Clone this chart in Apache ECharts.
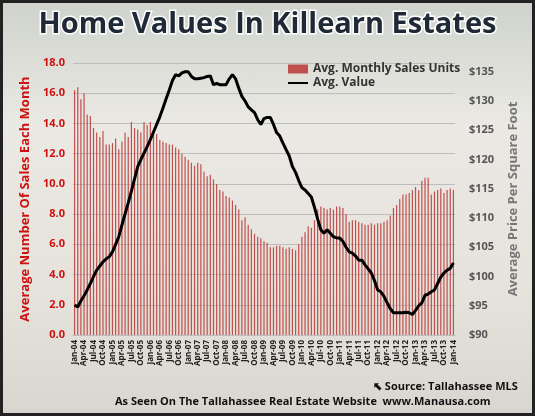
<!DOCTYPE html><html><head><meta charset="utf-8">
<script src="https://cdn.jsdelivr.net/npm/echarts@6/dist/echarts.min.js"></script>
<style>html,body{margin:0;padding:0}#c{width:535px;height:416px;box-sizing:border-box;border:3px solid #222;background:linear-gradient(#cfd3cc,#ebe9e4 30%,#e6e2dc 70%,#d9d6cf)}</style>
</head><body><div id="c"></div><script>
const mon=['Jan','Feb','Mar','Apr','May','Jun','Jul','Aug','Sep','Oct','Nov','Dec'];
const categories=[];for(let y=4;y<=14;y++){for(let m=0;m<12;m++){if(y===14&&m>0)break;categories.push(mon[m]+'-'+String(y).padStart(2,'0'));}}
const salesUnits=[16.2,16.4,15.6,16.0,14.6,14.5,13.7,13.4,13.1,13.5,12.6,12.6,
12.7,13.0,12.3,12.8,13.4,13.1,14.1,13.7,13.6,13.4,14.1,13.9,
14.1,13.5,13.3,12.9,12.8,12.7,12.6,12.6,12.4,12.3,12.0,11.8,
11.6,11.4,11.2,11.4,11.3,10.8,10.5,10.6,10.3,10.0,9.6,9.5,
9.2,9.1,8.9,8.6,8.3,7.6,7.8,7.3,7.0,6.7,6.5,6.4,
6.2,6.1,5.8,5.8,5.9,5.9,5.8,5.7,5.8,5.7,5.6,6.0,
6.5,6.8,7.2,7.1,7.6,8.3,8.5,8.4,8.3,8.4,8.3,8.5,
8.5,8.4,8.0,7.5,7.6,7.6,7.5,7.4,7.3,7.3,7.4,7.3,
7.4,7.4,7.5,7.6,7.9,8.4,8.6,9.0,9.3,9.3,9.4,9.6,
9.8,9.6,10.2,10.4,10.4,9.3,9.5,9.6,9.7,9.4,9.6,9.7,9.6];
const avgValue=[95.1,94.8,95.8,96.7,97.7,98.8,100.0,101.1,101.8,102.5,103.0,103.4,
104.2,105.5,106.8,108.8,110.7,112.6,114.6,116.7,118.8,120.0,121.1,122.2,
123.4,124.7,126.0,127.3,128.8,130.4,131.9,133.5,134.5,134.3,134.8,135.0,
135.0,134.2,133.8,133.8,133.9,134.0,134.2,134.3,132.8,133.0,132.8,132.8,
132.8,133.8,134.5,133.8,132.2,130.8,130.0,129.0,128.5,128.0,126.8,126.0,
127.0,127.2,127.2,126.0,124.6,124.0,122.8,121.7,120.6,118.8,117.8,116.4,
115.2,114.8,114.2,113.6,111.8,109.8,108.0,107.4,108.0,107.4,106.8,106.6,
106.6,106.0,105.0,104.2,104.0,103.5,102.8,102.8,102.0,101.3,100.6,99.3,
97.7,97.4,96.6,95.5,94.5,93.8,93.8,93.8,93.8,93.9,93.8,93.5,
94.2,95.0,95.5,96.8,97.0,97.4,97.7,98.8,99.9,100.6,101.1,101.4,102.3];
const ch=echarts.init(document.getElementById('c'));
const F='Open Sans';
ch.setOption({
 animation:false,
 title:{text:'Home Values In Killearn Estates',left:'center',top:2,textStyle:{fontFamily:F,fontSize:29,fontWeight:'bold',color:'#1f2a36',textBorderColor:'#fff',textBorderWidth:3}},
 legend:{top:55,left:280,orient:'vertical',itemGap:2,itemWidth:20,itemHeight:9,textStyle:{fontFamily:F,fontSize:12,fontWeight:'bold',color:'#333'},
  data:[{name:'Avg. Monthly Sales Units',icon:'rect'},{name:'Avg. Value',icon:'path://M0,4L20,4L20,6L0,6Z'}]},
 grid:{left:70,right:77,top:60,bottom:78},
 xAxis:{type:'category',data:categories,axisTick:{show:false},axisLine:{show:false},
  axisLabel:{interval:2,rotate:90,fontFamily:F,fontSize:8,fontWeight:'bold',color:'#222',margin:5}},
 yAxis:[{type:'value',min:0,max:18,interval:2,name:'Average Number Of Sales Each Month',nameLocation:'middle',nameGap:40,
   nameTextStyle:{color:'#cc1111',fontFamily:F,fontSize:13,fontWeight:'bold'},
   axisLabel:{formatter:v=>v.toFixed(1),color:'#cc1111',fontFamily:F,fontSize:11,fontWeight:'bold'},
   splitLine:{lineStyle:{color:'#bdbdbd'}}},
  {type:'value',min:90,max:136.5,interval:5,name:'Average Price Per Square Foot',nameLocation:'middle',nameGap:52,
   nameTextStyle:{color:'#777',fontFamily:F,fontSize:13,fontWeight:'bold'},
   axisLabel:{formatter:v=>'$'+v,color:'#555',fontFamily:F,fontSize:11,fontWeight:'bold',margin:14},splitLine:{show:false}}],
 series:[{name:'Avg. Monthly Sales Units',type:'bar',data:salesUnits,barWidth:1.2,itemStyle:{color:'#c0504d'}},
  {name:'Avg. Value',type:'line',yAxisIndex:1,data:avgValue,symbol:'none',lineStyle:{color:'#000',width:3},itemStyle:{color:'#000'}}],
 graphic:[{type:'text',left:370,top:378,style:{text:'⬉ Source: Tallahassee MLS',font:'bold 11px "Open Sans"',fill:'#111'}},
  {type:'text',left:112,top:393,style:{text:'As Seen On The Tallahassee Real Estate Website  www.Manausa.com',font:'bold 11px "Open Sans"',fill:'#111'}}]
});
</script></body></html>
